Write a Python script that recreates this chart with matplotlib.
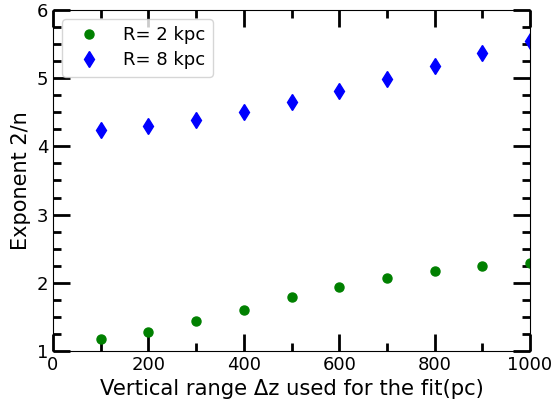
import matplotlib
matplotlib.use("Agg")
import matplotlib.pyplot as plt
from matplotlib.ticker import MultipleLocator

dz = [100, 200, 300, 400, 500, 600, 700, 800, 900, 1000]
exp_r2 = [1.17, 1.28, 1.44, 1.60, 1.79, 1.94, 2.07, 2.17, 2.25, 2.29]
exp_r8 = [4.24, 4.30, 4.39, 4.50, 4.65, 4.81, 4.99, 5.18, 5.37, 5.55]

fig = plt.figure(figsize=(5.54, 4.07), dpi=100)
ax = fig.add_axes([53 / 554, 1 - 351 / 407, 477 / 554, 341 / 407])

ax.plot(dz, exp_r2, "o", color="green", ms=6.5, ls="none", label="R= 2 kpc")
ax.plot(dz, exp_r8, "d", color="blue", ms=8, ls="none", label="R= 8 kpc")

ax.set_xlim(0, 1000)
ax.set_ylim(1, 6)
ax.xaxis.set_major_locator(MultipleLocator(200))
ax.xaxis.set_minor_locator(MultipleLocator(100))
ax.yaxis.set_major_locator(MultipleLocator(1))
ax.yaxis.set_minor_locator(MultipleLocator(0.25))
ax.tick_params(which="both", direction="in", top=True, right=True, width=2, labelsize=13)
ax.tick_params(which="major", length=12)
ax.tick_params(which="minor", length=6)

ax.set_xlabel("Vertical range \u0394z used for the fit(pc)", fontsize=15.2)
ax.set_ylabel("Exponent 2/n", fontsize=15)

ax.legend(loc="upper left", fontsize=13, handletextpad=0.8, borderpad=0.4,
          handlelength=2.2, labelspacing=0.4, numpoints=1)

fig.savefig("out.png", dpi=100)
